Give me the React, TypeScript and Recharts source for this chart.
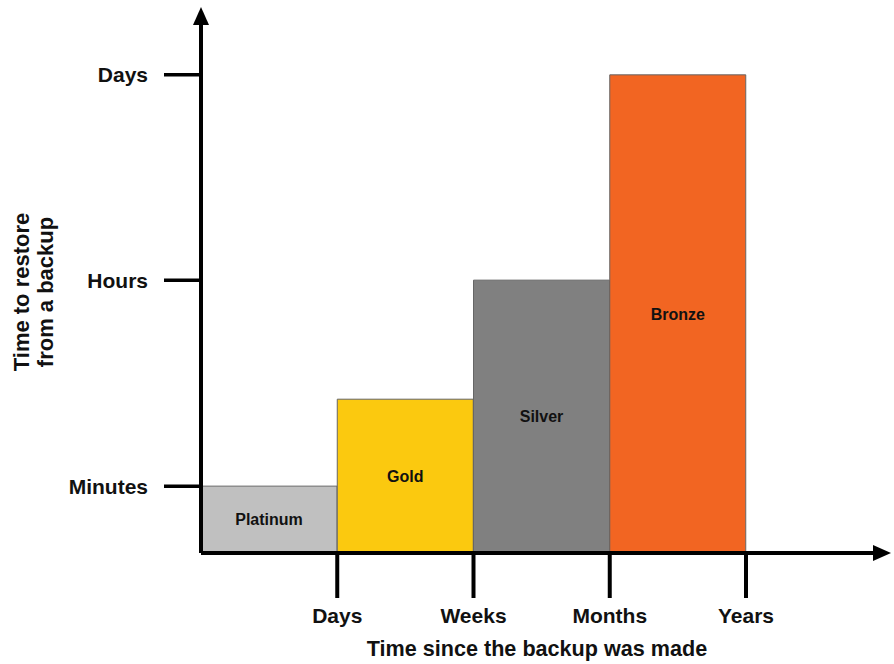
import { BarChart, Bar, XAxis, YAxis, Cell, LabelList, Label } from "recharts";

// backup tiers, left to right
const tiers = ["Platinum", "Gold", "Silver", "Bronze"];
// restore time on a 0..8 scale (Minutes ≈ 1, Hours ≈ 4.1, Days ≈ 7.15)
const restoreTime = [1, 2.3, 4.08, 7.15];
const tierColors = ["#c0c0c0", "#fbc90f", "#808080", "#f26522"];

// right edge of each tier on the "time since backup" axis
const ageEdges = [1, 2, 3, 4];
const ageLabels = ["Days", "Weeks", "Months", "Years"];

const restoreTicks = [1, 4.08, 7.15];
const restoreLabels = ["Minutes", "Hours", "Days"];

const data = tiers.map((tier, i) => ({
  tier,
  restore: restoreTime[i],
  edge: ageEdges[i],
}));

const font = "'Liberation Sans', Arial, sans-serif";
const tickStyle = { fill: "#111", fontSize: 21, fontWeight: "bold", fontFamily: font };

export default function App() {
  return (
    <div style={{ position: "absolute", left: 0, top: 0, background: "#fff" }}>
      <BarChart
        width={894}
        height={664}
        data={data}
        margin={{ top: 18, right: 14, bottom: 0, left: 0 }}
        barCategoryGap={0}
        barGap={0}
      >
        <defs>
          <marker
            id="arrowHead"
            markerUnits="userSpaceOnUse"
            markerWidth={20}
            markerHeight={16}
            viewBox="0 0 20 16"
            refX={7}
            refY={8}
            orient="auto-start-reverse"
          >
            <path d="M0,0 L18,8 L0,16 z" fill="#000" />
          </marker>
        </defs>
        <XAxis xAxisId="tier" dataKey="tier" hide padding={{ left: 0, right: 134 }} />
        <XAxis
          xAxisId="age"
          type="number"
          dataKey="edge"
          domain={[0, 4]}
          ticks={ageEdges}
          interval={0}
          tickFormatter={(v: number) => ageLabels[ageEdges.indexOf(v)]}
          padding={{ left: 0, right: 134 }}
          height={111}
          tickSize={45}
          tickMargin={10}
          tick={tickStyle}
          axisLine={{ stroke: "#000", strokeWidth: 4, markerEnd: "url(#arrowHead)" }}
          tickLine={{ stroke: "#000", strokeWidth: 4 }}
        >
          <Label
            content={() => (
              <text
                x={537}
                y={656}
                textAnchor="middle"
                fill="#111"
                fontSize={21.6}
                fontWeight="bold"
                fontFamily={font}
              >
                Time since the backup was made
              </text>
            )}
          />
        </XAxis>
        <YAxis
          type="number"
          domain={[0, 8]}
          ticks={restoreTicks}
          interval={0}
          tickFormatter={(v: number) => restoreLabels[restoreTicks.indexOf(v)]}
          width={201}
          tickSize={37}
          tickMargin={16}
          tick={tickStyle}
          axisLine={{ stroke: "#000", strokeWidth: 4, markerStart: "url(#arrowHead)" }}
          tickLine={{ stroke: "#000", strokeWidth: 3.5 }}
        >
          <Label
            content={() => (
              <text
                transform="translate(32, 292) rotate(-90)"
                textAnchor="middle"
                fill="#111"
                fontSize={22}
                fontWeight="bold"
                fontFamily={font}
              >
                <tspan x={0} dy={-3}>Time to restore</tspan>
                <tspan x={0} dy={24}>from a backup</tspan>
              </text>
            )}
          />
        </YAxis>
        <Bar xAxisId="tier" dataKey="restore" isAnimationActive={false}>
          {data.map((d, i) => (
            <Cell key={d.tier} fill={tierColors[i]} stroke="#666" strokeWidth={1} />
          ))}
          <LabelList
            dataKey="tier"
            position="center"
            fill="#111"
            fontSize={16}
            fontWeight="bold"
            fontFamily={font}
          />
        </Bar>
      </BarChart>
    </div>
  );
}
